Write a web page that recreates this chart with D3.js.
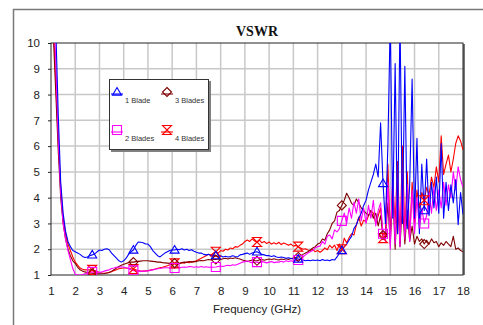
<!DOCTYPE html>
<html>
<head>
<meta charset="utf-8">
<script src="https://cdn.jsdelivr.net/npm/d3@7"></script>
<style>
  body { margin: 0; background: #fff; }
  svg { display: block; font-family: "Liberation Sans", Arial, sans-serif; }
</style>
</head>
<body>
<svg id="chart" width="483" height="325"></svg>
<script>
// frequency sweep 1..18 GHz, 0.1 GHz step
const freqs = d3.range(0, 171).map(i => +(1 + i * 0.1).toFixed(1));

const xTicks = [1, 2, 3, 4, 5, 6, 7, 8, 9, 10, 11, 12, 13, 14, 15, 16, 17, 18];
const yTicks = [1, 2, 3, 4, 5, 6, 7, 8, 9, 10];

const blade1 = [
  14, 12.5, 10.5, 7.2, 4.6, 3.4, 2.7, 2.3, 2.1, 1.95,
  1.9, 1.85, 1.8, 1.72, 1.68, 1.7, 1.75, 1.78, 1.82, 1.9,
  1.97, 1.95, 2.0, 2.02, 1.98, 1.85, 1.75, 1.65, 1.55, 1.5,
  1.55, 1.65, 1.8, 1.9, 1.97, 2.15, 2.28, 2.27, 2.25, 2.2,
  2.2, 2.1, 1.95, 1.85, 1.75, 1.7, 1.78, 1.85, 1.9, 1.95,
  1.97, 1.97, 2.0, 1.98, 2.02, 1.97, 2.0, 1.95, 1.98, 1.92,
  1.88, 1.85, 1.85, 1.8, 1.78, 1.8, 1.75, 1.78, 1.75, 1.72,
  1.75, 1.7, 1.73, 1.7, 1.72, 1.75, 1.72, 1.7, 1.78, 1.8,
  1.83, 1.85, 1.8, 1.85, 1.88, 1.9, 1.85, 1.8, 1.78, 1.75,
  1.75, 1.72, 1.75, 1.7, 1.68, 1.7, 1.68, 1.65, 1.67, 1.64,
  1.62, 1.64, 1.62, 1.6, 1.58, 1.55, 1.57, 1.55, 1.58, 1.56,
  1.58, 1.55, 1.6, 1.56, 1.58, 1.55, 1.6, 1.58, 1.7, 1.85,
  1.95, 2.1, 2.2, 2.36, 2.5, 2.8, 2.95, 3.2, 3.4, 3.7,
  3.9, 4.3, 4.6, 4.9, 5.3, 4.8, 6.9, 4.55, 3.0, 6.0,
  11, 3.2, 9.2, 2.6, 11, 3.0, 9.1, 2.8, 4.5, 8.6,
  3.2, 6.3, 2.6, 5.3, 3.5, 5.5, 3.3, 4.6, 3.6, 4.8,
  3.4, 6.1, 3.2, 4.6, 3.5, 4.5, 3.8, 4.7, 2.95, 4.2, 3.35
];

const blades2 = [
  14, 11.5, 9.2, 6.3, 4.2, 3.0, 2.4, 1.95, 1.6, 1.25,
  1.03, 1.0, 1.0, 1.02, 1.05, 1.08, 1.1, 1.12, 1.1, 1.12,
  1.1, 1.12, 1.15, 1.18, 1.2, 1.25, 1.27, 1.3, 1.3, 1.32,
  1.3, 1.28, 1.25, 1.2, 1.18, 1.15, 1.15, 1.14, 1.15, 1.15,
  1.16, 1.18, 1.2, 1.22, 1.24, 1.25, 1.27, 1.28, 1.28, 1.27,
  1.27, 1.27, 1.3, 1.28, 1.3, 1.31, 1.3, 1.33, 1.32, 1.3,
  1.32, 1.3, 1.33, 1.3, 1.32, 1.3, 1.31, 1.3, 1.31, 1.33,
  1.35, 1.33, 1.36, 1.38, 1.36, 1.4, 1.38, 1.42, 1.46, 1.5,
  1.52, 1.54, 1.5, 1.48, 1.5, 1.5, 1.48, 1.52, 1.5, 1.47,
  1.5, 1.52, 1.48, 1.5, 1.5, 1.53, 1.5, 1.55, 1.52, 1.55,
  1.53, 1.56, 1.58, 1.62, 1.7, 1.78, 1.85, 1.9, 1.95, 2.05,
  2.1, 2.12, 2.3, 2.2, 2.5, 2.55, 2.4, 2.75, 2.67, 2.8,
  3.1, 3.4, 3.0, 3.6, 3.2, 3.83, 3.4, 3.95, 3.1, 3.6,
  3.0, 3.7, 3.2, 3.9, 2.9, 3.5, 3.8, 2.6, 2.3, 4.6,
  2.0, 5.0, 2.2, 4.7, 2.1, 4.9, 2.4, 4.5, 2.3, 4.3,
  2.6, 4.0, 2.8, 3.6, 3.0, 3.3, 4.2, 3.4, 4.4, 3.5,
  4.3, 3.6, 4.6, 3.7, 4.5, 4.0, 5.0, 4.3, 5.2, 4.7, 4.4
];

const blades3 = [
  14, 10.2, 8.0, 5.8, 4.0, 3.0, 2.4, 2.0, 1.75, 1.55,
  1.45, 1.3, 1.2, 1.15, 1.12, 1.1, 1.08, 1.07, 1.06, 1.05,
  1.05, 1.05, 1.06, 1.08, 1.1, 1.15, 1.2, 1.27, 1.33, 1.38,
  1.42, 1.45, 1.48, 1.5, 1.5, 1.52, 1.53, 1.54, 1.55, 1.55,
  1.55, 1.54, 1.53, 1.52, 1.5, 1.5, 1.48, 1.47, 1.46, 1.45,
  1.45, 1.46, 1.47, 1.45, 1.48, 1.5, 1.49, 1.52, 1.5, 1.53,
  1.52, 1.55, 1.56, 1.55, 1.58, 1.6, 1.58, 1.6, 1.6, 1.62,
  1.6, 1.63, 1.65, 1.62, 1.66, 1.64, 1.67, 1.64, 1.62, 1.58,
  1.55, 1.52, 1.55, 1.58, 1.56, 1.55, 1.58, 1.6, 1.57, 1.6,
  1.62, 1.6, 1.63, 1.6, 1.58, 1.62, 1.6, 1.63, 1.6, 1.64,
  1.66, 1.68, 1.7, 1.75, 1.8, 1.85, 1.9, 1.97, 2.05, 2.1,
  2.2, 2.24, 2.4, 2.35, 2.6, 2.75, 3.0, 3.1, 3.44, 3.5,
  3.7, 3.9, 4.17, 4.0, 3.78, 3.7, 3.95, 3.8, 3.6, 3.5,
  3.4, 3.3, 3.5, 3.2, 3.4, 2.9, 3.3, 2.55, 2.4, 3.8,
  2.2, 4.3, 2.0, 4.0, 2.1, 3.8, 2.2, 3.5, 2.3, 2.9,
  2.2, 2.5, 2.3, 2.4, 2.2, 2.35, 2.2, 2.4, 2.25, 2.3,
  2.1, 2.25, 2.15, 2.3, 2.2, 2.1, 2.5, 2.0, 2.05, 1.95, 1.9
];

const blades4 = [
  14, 10.8, 8.5, 6.2, 4.4, 3.2, 2.6, 2.2, 1.95, 1.7,
  1.5, 1.38, 1.27, 1.22, 1.2, 1.2, 1.2, 1.2, 1.17, 1.14,
  1.1, 1.08, 1.07, 1.08, 1.1, 1.13, 1.17, 1.2, 1.24, 1.26,
  1.27, 1.27, 1.25, 1.24, 1.23, 1.2, 1.17, 1.15, 1.15, 1.16,
  1.17, 1.19, 1.21, 1.23, 1.26, 1.28, 1.3, 1.33, 1.36, 1.4,
  1.42, 1.45, 1.42, 1.45, 1.48, 1.46, 1.5, 1.48, 1.52, 1.5,
  1.55, 1.6, 1.65, 1.7, 1.75, 1.8, 1.78, 1.85, 1.9, 1.85,
  1.95, 1.92, 2.0, 1.97, 2.05, 2.02, 2.1, 2.08, 2.15, 2.2,
  2.3, 2.36, 2.3, 2.4, 2.32, 2.28, 2.35, 2.25, 2.3, 2.22,
  2.28, 2.2, 2.25, 2.2, 2.27, 2.18, 2.24, 2.2, 2.15, 2.2,
  2.12, 2.15, 2.1, 2.05, 2.0, 2.02, 1.97, 1.95, 2.0, 1.9,
  1.95, 1.88, 1.95, 2.05, 1.98, 2.15, 2.05, 2.16, 1.95, 2.2,
  2.0, 2.43, 2.25, 2.45, 2.6, 2.55, 2.94, 3.25, 2.9, 3.13,
  3.05, 3.3, 3.5, 3.4, 3.0, 3.3, 3.6, 2.43, 2.7, 5.3,
  2.5, 4.6, 3.0, 5.4, 2.2, 6.0, 2.6, 5.0, 2.4, 4.6,
  3.0, 4.3, 3.6, 4.2, 3.9, 4.4, 4.1, 4.8, 4.4, 5.2,
  4.6, 6.4, 4.9, 5.3, 5.65, 5.0, 5.5, 6.1, 6.4, 6.2, 5.85
];

const seriesNames = ["1 Blade", "2 Blades", "3 Blades", "4 Blades"];
const colors = { "1 Blade": "#0000ff", "2 Blades": "#ff00ff", "3 Blades": "#800000", "4 Blades": "#ff0000" };
const symbols = { "1 Blade": "triangle", "2 Blades": "square", "3 Blades": "diamond", "4 Blades": "bowtie" };
const markerIdx = [17, 34, 51, 68, 85, 102, 120, 137, 154];

const values = { "1 Blade": blade1, "2 Blades": blades2, "3 Blades": blades3, "4 Blades": blades4 };

const svg = d3.select("#chart");
const margin = { left: 51, top: 43, right: 20, bottom: 50 };
const W = 483, H = 325;

// outer frame
svg.append("rect")
  .attr("x", 13.5).attr("y", 9.5)
  .attr("width", W).attr("height", H)
  .attr("fill", "none").attr("stroke", "#7a7a7a").attr("stroke-width", 1.5);

const x = d3.scaleLinear().domain([1, 18]).range([margin.left, W - margin.right]);
const y = d3.scaleLinear().domain([1, 10]).range([H - margin.bottom, margin.top]);

// grid
const grid = svg.append("g");
grid.selectAll(".gx").data(xTicks.slice(1, -1)).enter().append("line")
  .attr("x1", d => x(d)).attr("x2", d => x(d))
  .attr("y1", y(10)).attr("y2", y(1))
  .attr("stroke", "#c8c8c8").attr("stroke-width", 1.5);
grid.selectAll(".gy").data(yTicks.slice(1, -1)).enter().append("line")
  .attr("x1", x(1)).attr("x2", x(18))
  .attr("y1", d => y(d)).attr("y2", d => y(d))
  .attr("stroke", "#c8c8c8").attr("stroke-width", 1.5);

// plot border, right side with a gray shadow
svg.append("line").attr("x1", x(18) + 1).attr("x2", x(18) + 1).attr("y1", y(10) + 1).attr("y2", y(1))
  .attr("stroke", "#777").attr("stroke-width", 2);
svg.append("rect")
  .attr("x", x(1)).attr("y", y(10))
  .attr("width", x(18) - x(1)).attr("height", y(1) - y(10))
  .attr("fill", "none").attr("stroke", "#222").attr("stroke-width", 1);

svg.append("clipPath").attr("id", "plotclip").append("rect")
  .attr("x", x(1)).attr("y", y(10))
  .attr("width", x(18) - x(1)).attr("height", y(1) - y(10));

const line = d3.line().x((d, i) => x(freqs[i])).y(d => y(d));

const plot = svg.append("g").attr("clip-path", "url(#plotclip)");
const drawOrder = ["4 Blades", "3 Blades", "2 Blades", "1 Blade"];
drawOrder.forEach(name => {
  plot.append("path")
    .datum(values[name])
    .attr("d", line)
    .attr("fill", "none")
    .attr("stroke", colors[name])
    .attr("stroke-width", 1.1)
    .attr("stroke-linejoin", "round");
});

function markerPath(kind, s) {
  if (kind === "triangle") return `M0,${-s}L${s},${s * 0.7}L${-s},${s * 0.7}Z`;
  if (kind === "square") return `M${-s},${-s}H${s}V${s}H${-s}Z`;
  if (kind === "diamond") return `M0,${-s}L${s},0L0,${s}L${-s},0Z`;
  // bowtie: two triangles tip to tip, with bars on top and bottom
  return `M${-s},${-s}H${s}L${-s},${s}H${s}Z`;
}

function drawMarker(g, name, cx, cy) {
  g.append("path")
    .attr("d", markerPath(symbols[name], 4.5))
    .attr("transform", `translate(${cx},${cy})`)
    .attr("fill", "none")
    .attr("stroke", colors[name])
    .attr("stroke-width", 1.1);
}

const marks = svg.append("g").attr("clip-path", "url(#plotclip)");
drawOrder.forEach(name => {
  markerIdx.forEach(i => drawMarker(marks, name, x(freqs[i]), y(values[name][i])));
});

// axes
const yAxis = d3.axisLeft(y).tickValues(yTicks).tickSize(3).tickPadding(8);
const gy = svg.append("g").attr("transform", `translate(${x(1)},0)`).call(yAxis);
gy.select(".domain").remove();
gy.selectAll("text").attr("font-size", 11.5).attr("fill", "#222").attr("font-family", "Liberation Sans, Arial, sans-serif");
gy.selectAll("line").attr("stroke", "#222");

const xAxis = d3.axisBottom(x).tickValues(xTicks).tickSize(0).tickPadding(12);
const gx = svg.append("g").attr("transform", `translate(0,${y(1)})`).call(xAxis);
gx.select(".domain").remove();
gx.selectAll("text").attr("font-size", 11.5).attr("fill", "#222").attr("font-family", "Liberation Sans, Arial, sans-serif");

svg.append("text")
  .attr("x", 257).attr("y", 313)
  .attr("text-anchor", "middle")
  .attr("font-size", 11.5).attr("fill", "#222")
  .text("Frequency (GHz)");

svg.append("text")
  .attr("x", 257).attr("y", 36)
  .attr("text-anchor", "middle")
  .attr("font-family", "Liberation Serif, Times New Roman, serif")
  .attr("font-weight", "bold").attr("font-size", 14)
  .attr("fill", "#111")
  .text("VSWR");

// legend
const lg = svg.append("g").attr("transform", "translate(109,79)");
lg.append("rect").attr("x", 2).attr("y", 2).attr("width", 100).attr("height", 71).attr("fill", "#808080");
lg.append("rect").attr("x", 0.5).attr("y", 0.5).attr("width", 99).attr("height", 70)
  .attr("fill", "#fff").attr("stroke", "#333").attr("stroke-width", 1);

const legendPos = [
  { name: "1 Blade", mx: 8, my: 13 },
  { name: "3 Blades", mx: 58, my: 13 },
  { name: "2 Blades", mx: 8, my: 51 },
  { name: "4 Blades", mx: 58, my: 51 }
];
legendPos.forEach(p => {
  lg.append("line")
    .attr("x1", p.mx - 6).attr("x2", p.mx + 6)
    .attr("y1", p.my + 2).attr("y2", p.my + 2)
    .attr("stroke", colors[p.name]).attr("stroke-width", 1.1);
  drawMarker(lg, p.name, p.mx, p.my);
  lg.append("text")
    .attr("x", p.mx + 8).attr("y", p.my + 11)
    .attr("font-size", 7.5).attr("fill", "#333")
    .text(p.name);
});
</script>
</body>
</html>
